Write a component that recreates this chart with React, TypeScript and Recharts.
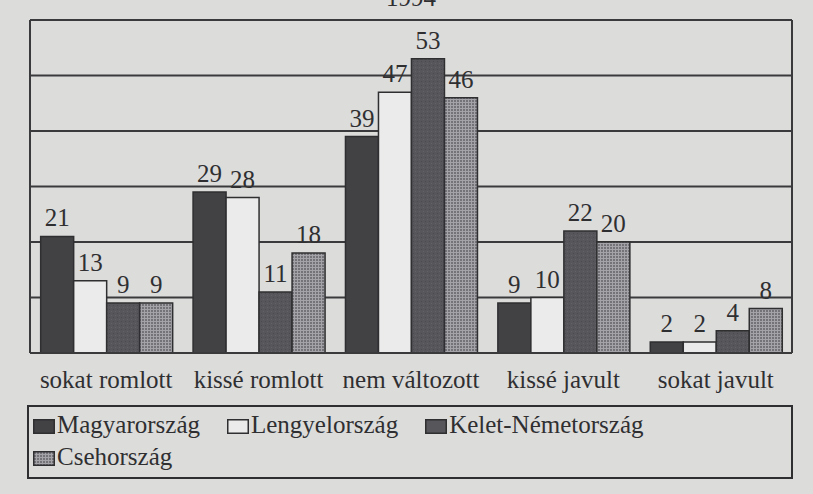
import { BarChart, Bar, XAxis, YAxis, CartesianGrid, LabelList } from "recharts";

const categories = ["sokat romlott", "kissé romlott", "nem változott", "kissé javult", "sokat javult"];
const magyarorszag = [21, 29, 39, 9, 2];
const lengyelorszag = [13, 28, 47, 10, 2];
const keletNemetorszag = [9, 11, 53, 22, 4];
const csehorszag = [9, 18, 46, 20, 8];
const yTicks = [0, 10, 20, 30, 40, 50, 60];

const series = [
  { key: "hu", name: "Magyarország", values: magyarorszag, fill: "#424245" },
  { key: "pl", name: "Lengyelország", values: lengyelorszag, fill: "#ebebeb" },
  { key: "ddr", name: "Kelet-Németország", values: keletNemetorszag, fill: "url(#ddrTex)" },
  { key: "cz", name: "Csehország", values: csehorszag, fill: "url(#czGrid)" },
];

const data = categories.map((name, i) => {
  const row: Record<string, string | number> = { name };
  series.forEach((s) => (row[s.key] = s.values[i]));
  return row;
});

const serif = "'Liberation Serif', serif";
const ink = "#2f2f31";
const line = "#3a3a3c";
const bg = "#dcdcdb";

function Swatch({ fill }: { fill: string }) {
  const f = fill === "url(#czGrid)" ? "url(#czSw)" : fill === "url(#ddrTex)" ? "#56565b" : fill;
  return (
    <svg width={22} height={15} style={{ marginRight: 2, verticalAlign: "-1px" }}>
      <defs>
        <pattern id="czSw" width="3" height="3" patternUnits="userSpaceOnUse">
          <rect width="3" height="3" fill="#737378" />
          <path d="M0 0.5H3M0.5 0V3" stroke="#a3a3a8" strokeWidth={1} />
        </pattern>
      </defs>
      <rect x={0.75} y={0.75} width={20.5} height={13.5} fill={f} stroke={ink} strokeWidth={1.5} />
    </svg>
  );
}

export default function App() {
  const rows = [series.slice(0, 3), series.slice(3)];
  return (
    <div style={{ position: "absolute", left: 0, top: 0, width: 813, height: 494, overflow: "hidden", background: bg, fontFamily: serif, color: ink }}>
      <div style={{ position: "absolute", left: 386, top: -16, fontSize: 25, lineHeight: "28px" }}>1994</div>
      <BarChart
        width={813}
        height={400}
        data={data}
        margin={{ top: 20, right: 20, bottom: 17, left: 29 }}
        barCategoryGap="7%"
        barGap={0}
      >
        <defs>
          <pattern id="czGrid" width="3" height="3" patternUnits="userSpaceOnUse">
            <rect width="3" height="3" fill="#737378" />
            <path d="M0 0.5H3M0.5 0V3" stroke="#a3a3a8" strokeWidth={1} />
          </pattern>
          <pattern id="ddrTex" width="4" height="4" patternUnits="userSpaceOnUse">
            <rect width="4" height="4" fill="#56565b" />
            <rect x="1" y="1" width="1" height="1" fill="#4a4a4f" />
            <rect x="3" y="3" width="1" height="1" fill="#626267" />
          </pattern>
        </defs>
        <CartesianGrid vertical={false} stroke={line} strokeWidth={2} />
        <XAxis
          dataKey="name"
          height={30}
          tickLine={false}
          axisLine={{ stroke: line, strokeWidth: 2 }}
          tick={{ fill: ink, fontSize: 25, fontFamily: serif }}
          tickMargin={11}
          interval={0}
        />
        <YAxis
          domain={[0, 60]}
          ticks={yTicks}
          interval={0}
          tick={() => <g />}
          tickLine={false}
          width={1}
          axisLine={{ stroke: line, strokeWidth: 2 }}
        />
        <YAxis
          yAxisId="r"
          orientation="right"
          domain={[0, 60]}
          ticks={yTicks}
          interval={0}
          tick={() => <g />}
          tickLine={false}
          width={1}
          axisLine={{ stroke: line, strokeWidth: 2 }}
        />
        {series.map((s) => (
          <Bar key={s.key} dataKey={s.key} name={s.name} fill={s.fill} stroke={ink} strokeWidth={1.5} isAnimationActive={false}>
            <LabelList dataKey={s.key} position="top" offset={10} fill={ink} fontSize={25} fontFamily={serif} />
          </Bar>
        ))}
      </BarChart>
      <div
        style={{
          position: "absolute",
          left: 27,
          top: 405,
          width: 766,
          height: 74,
          boxSizing: "border-box",
          border: `2px solid ${ink}`,
          padding: "2px 0 0 4px",
          fontSize: 25,
          lineHeight: "32px",
        }}
      >
        {rows.map((row, ri) => (
          <div key={ri} style={{ display: "flex", gap: 27, whiteSpace: "nowrap" }}>
            {row.map((s) => (
              <span key={s.key}>
                <Swatch fill={s.fill} />
                {s.name}
              </span>
            ))}
          </div>
        ))}
      </div>
    </div>
  );
}
